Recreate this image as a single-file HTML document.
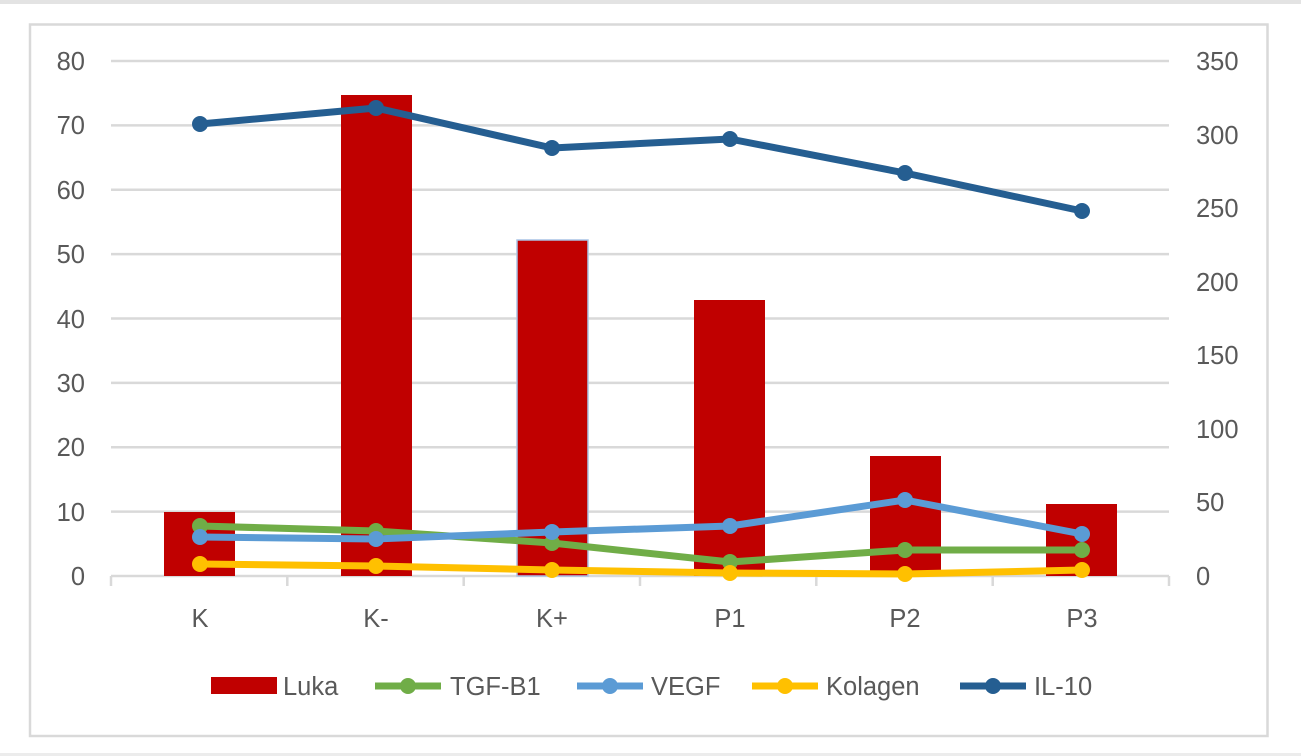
<!DOCTYPE html>
<html><head><meta charset="utf-8"><style>
html,body{margin:0;padding:0;background:#fff;}
svg{display:block;font-family:"Liberation Sans",sans-serif;}
</style></head><body>
<svg width="1301" height="756" viewBox="0 0 1301 756">
<rect x="0" y="0" width="1301" height="4" fill="#e3e3e3"/>
<rect x="0" y="753" width="1301" height="3" fill="#ececec"/>
<rect x="30" y="24.5" width="1237.5" height="711.5" fill="#fff" stroke="#d9d9d9" stroke-width="2.5"/>
<g stroke="#d9d9d9" stroke-width="2.5">
<line x1="111" y1="61" x2="1169" y2="61"/>
<line x1="111" y1="125.4" x2="1169" y2="125.4"/>
<line x1="111" y1="189.8" x2="1169" y2="189.8"/>
<line x1="111" y1="254.1" x2="1169" y2="254.1"/>
<line x1="111" y1="318.5" x2="1169" y2="318.5"/>
<line x1="111" y1="382.9" x2="1169" y2="382.9"/>
<line x1="111" y1="447.3" x2="1169" y2="447.3"/>
<line x1="111" y1="511.6" x2="1169" y2="511.6"/>
<line x1="111" y1="576" x2="1169" y2="576"/>
<line x1="111" y1="576" x2="111" y2="586"/>
<line x1="287.3" y1="576" x2="287.3" y2="586"/>
<line x1="463.7" y1="576" x2="463.7" y2="586"/>
<line x1="640" y1="576" x2="640" y2="586"/>
<line x1="816.3" y1="576" x2="816.3" y2="586"/>
<line x1="992.7" y1="576" x2="992.7" y2="586"/>
<line x1="1169" y1="576" x2="1169" y2="586"/>
</g>
<g fill="#595959" font-size="25.5">
<g text-anchor="end">
<text x="85" y="70">80</text><text x="85" y="134">70</text><text x="85" y="199">60</text>
<text x="85" y="263">50</text><text x="85" y="328">40</text><text x="85" y="392">30</text>
<text x="85" y="456">20</text><text x="85" y="521">10</text><text x="85" y="585">0</text>
</g>
<text x="1196" y="70">350</text><text x="1196" y="144">300</text><text x="1196" y="217">250</text>
<text x="1196" y="291">200</text><text x="1196" y="364">150</text><text x="1196" y="438">100</text>
<text x="1196" y="511">50</text><text x="1196" y="585">0</text>
<g text-anchor="middle">
<text x="200" y="627">K</text><text x="376" y="627">K-</text><text x="552" y="627">K+</text>
<text x="730" y="627">P1</text><text x="905" y="627">P2</text><text x="1082" y="627">P3</text>
</g>
</g>
<g fill="#c00000">
<rect x="164" y="512" width="71" height="64"/>
<rect x="341" y="95" width="71" height="481"/>
<rect x="517" y="240" width="71" height="336" stroke="#a9c4e6" stroke-width="1.5"/>
<rect x="694" y="300" width="71" height="276"/>
<rect x="870" y="456" width="71" height="120"/>
<rect x="1046" y="504" width="71" height="72"/>
</g>
<g fill="none" stroke-width="7" stroke-linejoin="round">
<polyline stroke="#70ad47" points="200,526 376,531 552,543 730,562 905,550 1082,550"/>
<polyline stroke="#5b9bd5" points="200,537 376,539 552,532 730,526 905,500 1082,534"/>
<polyline stroke="#ffc000" points="200,564 376,566 552,570 730,573 905,574 1082,570"/>
<polyline stroke="#255e91" points="200,124 376,108 552,148 730,139 905,173 1082,211"/>
</g>
<g fill="#70ad47"><circle cx="200" cy="526" r="8"/><circle cx="376" cy="531" r="8"/><circle cx="552" cy="543" r="8"/><circle cx="730" cy="562" r="8"/><circle cx="905" cy="550" r="8"/><circle cx="1082" cy="550" r="8"/></g>
<g fill="#5b9bd5"><circle cx="200" cy="537" r="8"/><circle cx="376" cy="539" r="8"/><circle cx="552" cy="532" r="8"/><circle cx="730" cy="526" r="8"/><circle cx="905" cy="500" r="8"/><circle cx="1082" cy="534" r="8"/></g>
<g fill="#ffc000"><circle cx="200" cy="564" r="8"/><circle cx="376" cy="566" r="8"/><circle cx="552" cy="570" r="8"/><circle cx="730" cy="573" r="8"/><circle cx="905" cy="574" r="8"/><circle cx="1082" cy="570" r="8"/></g>
<g fill="#255e91"><circle cx="200" cy="124" r="8"/><circle cx="376" cy="108" r="8"/><circle cx="552" cy="148" r="8"/><circle cx="730" cy="139" r="8"/><circle cx="905" cy="173" r="8"/><circle cx="1082" cy="211" r="8"/></g>
<g font-size="25.5" fill="#595959">
<rect x="211" y="677" width="66" height="17" fill="#c00000"/>
<text x="283" y="695">Luka</text>
<line x1="375" y1="686" x2="441" y2="686" stroke="#70ad47" stroke-width="7"/><circle cx="408" cy="686" r="8" fill="#70ad47"/>
<text x="450" y="695">TGF-B1</text>
<line x1="577" y1="686" x2="643" y2="686" stroke="#5b9bd5" stroke-width="7"/><circle cx="610" cy="686" r="8" fill="#5b9bd5"/>
<text x="651" y="695">VEGF</text>
<line x1="752" y1="686" x2="818" y2="686" stroke="#ffc000" stroke-width="7"/><circle cx="785" cy="686" r="8" fill="#ffc000"/>
<text x="826" y="695">Kolagen</text>
<line x1="960" y1="686" x2="1026" y2="686" stroke="#255e91" stroke-width="7"/><circle cx="993" cy="686" r="8" fill="#255e91"/>
<text x="1034" y="695">IL-10</text>
</g>
</svg>
</body></html>
